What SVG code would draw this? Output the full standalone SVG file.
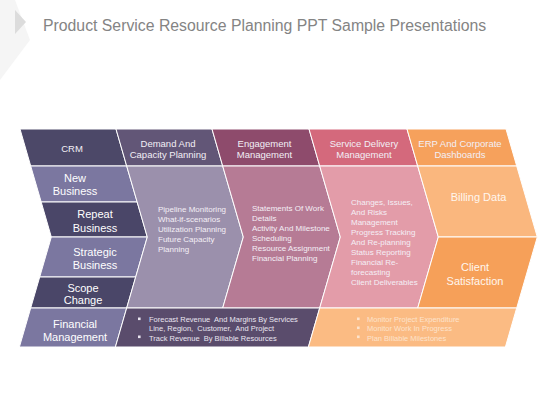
<svg xmlns="http://www.w3.org/2000/svg" width="560" height="420" viewBox="0 0 560 420">
<style>
text{font-family:"Liberation Sans",Arial,sans-serif;}
.sh{stroke:#ffffff;stroke-width:1;}
.hd{font-size:9.5px;fill:#f2eff6;text-anchor:middle;}
.rl{font-size:11px;fill:#ffffff;text-anchor:middle;}
.ls{font-size:8px;fill:#f4eff6;}
.bt{font-size:7.5px;fill:#e9e5f0;}
.ot{font-size:7.5px;fill:#fde3cc;}
.big{font-size:11px;fill:#fff6ee;text-anchor:middle;}
</style>
<rect width="560" height="420" fill="#ffffff"/>
<g id="corner">
<polygon points="0,0 15,0 30,40 0,80" fill="#f5f5f5"/>
<polygon points="15,10 26,22 15,34" fill="#dcdcdc"/>
</g>
<text x="43" y="30.5" font-size="15.8" fill="#848484">Product Service Resource Planning PPT Sample Presentations</text>

<g id="crm"><polygon class="sh" points="20,129 116,129 126.7,166 30.7,166" fill="#4c4868"/><text class="hd" x="72" y="152">CRM</text></g>
<g id="demand"><polygon class="sh" points="116,129 212,129 222.7,166 126.7,166" fill="#625677"/><text class="hd" x="168" y="147">Demand And</text><text class="hd" x="168" y="158">Capacity Planning</text></g>
<g id="engagement"><polygon class="sh" points="212,129 309,129 319.7,166 222.7,166" fill="#8e4b6c"/><text class="hd" x="264.5" y="147">Engagement</text><text class="hd" x="264.5" y="158">Management</text></g>
<g id="service"><polygon class="sh" points="309,129 407,129 417.7,166 319.7,166" fill="#d4697c"/><text class="hd" x="364" y="147">Service Delivery</text><text class="hd" x="364" y="158">Management</text></g>
<g id="erp"><polygon class="sh" points="407,129 506,129 516.7,166 417.7,166" fill="#f6a15c"/><text class="hd" x="460" y="147">ERP And Corporate</text><text class="hd" x="460" y="158">Dashboards</text></g>

<g id="new-business"><polygon class="sh" points="30.7,166 126.7,166 137.2,202 41.2,202" fill="#7b77a0"/><text class="rl" x="75" y="182">New</text><text class="rl" x="75" y="195">Business</text></g>
<g id="repeat-business"><polygon class="sh" points="41.2,202 137.2,202 147.3,237 51.3,237" fill="#4a4668"/><text class="rl" x="95" y="218">Repeat</text><text class="rl" x="95" y="232">Business</text></g>
<g id="strategic-business"><polygon class="sh" points="51.3,237 147.3,237 135.7,277 39.7,277" fill="#7b77a0"/><text class="rl" x="95" y="256">Strategic</text><text class="rl" x="95" y="268.5">Business</text></g>
<g id="scope-change"><polygon class="sh" points="39.7,277 135.7,277 126.7,308 30.7,308" fill="#4a4668"/><text class="rl" x="83" y="292">Scope</text><text class="rl" x="83" y="304">Change</text></g>

<g id="pipeline"><polygon class="sh" points="126.7,166 222.7,166 243.3,237 222.7,308 126.7,308 147.3,237" fill="#9b90ac"/>
<text class="ls" x="158" y="212">Pipeline Monitoring</text><text class="ls" x="158" y="222">What-if-scenarios</text><text class="ls" x="158" y="232">Utilization  Planning</text><text class="ls" x="158" y="242">Future Capacity</text><text class="ls" x="158" y="252">Planning</text></g>
<g id="statements"><polygon class="sh" points="222.7,166 319.7,166 340.3,237 319.7,308 222.7,308 243.3,237" fill="#b67b95"/>
<text class="ls" x="252" y="211">Statements Of Work</text><text class="ls" x="252" y="221">Details</text><text class="ls" x="252" y="231">Activity And Milestone</text><text class="ls" x="252" y="241">Scheduling</text><text class="ls" x="252" y="251">Resource Assignment</text><text class="ls" x="252" y="261">Financial Planning</text></g>
<g id="changes"><polygon class="sh" points="319.7,166 417.7,166 438.3,237 417.7,308 319.7,308 340.3,237" fill="#e39ca9"/>
<text class="ls" x="351" y="205">Changes, Issues,</text><text class="ls" x="351" y="215">And Risks</text><text class="ls" x="351" y="225">Management</text><text class="ls" x="351" y="235">Progress Tracking</text><text class="ls" x="351" y="245">And Re-planning</text><text class="ls" x="351" y="255">Status Reporting</text><text class="ls" x="351" y="265">Financial Re-</text><text class="ls" x="351" y="275">forecasting</text><text class="ls" x="351" y="285">Client Deliverables</text></g>
<g id="billing-data"><polygon class="sh" points="417.7,166 516.7,166 537.3,237 438.3,237" fill="#fab77e"/><text class="big" x="478.5" y="201">Billing Data</text></g>
<g id="client-satisfaction"><polygon class="sh" points="438.3,237 537.3,237 516.7,308 417.7,308" fill="#f6a059"/><text class="big" x="475" y="271">Client</text><text class="big" x="475" y="285">Satisfaction</text></g>

<g id="financial-management"><polygon class="sh" points="30.7,308 126.7,308 115.4,347 19.4,347" fill="#7b77a0"/><text class="rl" x="75" y="328">Financial</text><text class="rl" x="75" y="341">Management</text></g>
<g id="revenue-bar"><polygon class="sh" points="126.7,308 319.7,308 308.4,347 115.4,347" fill="#5a4c6c"/>
<rect x="138" y="317.5" width="2.6" height="2.6" fill="#e9e5f0"/><text class="bt" x="149" y="322" xml:space="preserve">Forecast Revenue  And Margins By Services</text>
<text class="bt" x="149" y="331" xml:space="preserve">Line, Region,  Customer,  And Project</text>
<rect x="138" y="335.5" width="2.6" height="2.6" fill="#e9e5f0"/><text class="bt" x="149" y="340.5" xml:space="preserve">Track Revenue  By Billable Resources</text></g>
<g id="project-bar"><polygon class="sh" points="319.7,308 516.7,308 505.4,347 308.4,347" fill="#fbbb83"/>
<rect x="357" y="317.5" width="2.6" height="2.6" fill="#fde3cc"/><text class="ot" x="367" y="322">Monitor Project Expenditure</text>
<rect x="357" y="326.5" width="2.6" height="2.6" fill="#fde3cc"/><text class="ot" x="367" y="331">Monitor Work In Progress</text>
<rect x="357" y="335.5" width="2.6" height="2.6" fill="#fde3cc"/><text class="ot" x="367" y="340.5">Plan Billable Milestones</text></g>
<g id="connectors"></g>
</svg>
